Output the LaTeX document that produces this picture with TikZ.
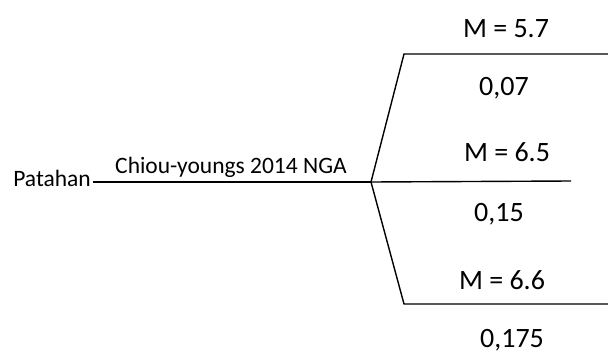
\documentclass[tikz,border=0pt]{standalone}
\usepackage{fontspec}
\setmainfont{Carlito}
\begin{document}
\begin{tikzpicture}[x=1pt,y=-1pt,
  lbl/.style={inner sep=0pt,anchor=base,font=\fontsize{23.5}{28}\selectfont},
  val/.style={inner sep=0pt,anchor=base,font=\fontsize{28}{33}\selectfont},
  ln/.style={draw=black,line width=1.4pt}]
\useasboundingbox (0,0) rectangle (608,356);
\node[lbl,anchor=base east] (pat) at (91,186) {Patahan};
\node[lbl] (model) at (231,173) {Chiou-youngs 2014 NGA};
\coordinate (J) at (371,182);
\coordinate (U1) at (404,54);
\coordinate (U2) at (608,54);
\coordinate (M2) at (571,181);
\coordinate (L1) at (404,304);
\coordinate (L2) at (608,304);
\node[val] (m57) at (506,37) {M = 5.7};
\node[val] (p07) at (504,95) {0,07};
\node[val] (m65) at (507,161) {M = 6.5};
\node[val] (p15) at (499,221) {0,15};
\node[val] (m66) at (502,289) {M = 6.6};
\node[val] (p175) at (512,347) {0,175};
\draw[ln] (pat.east |- J) ++(2,0) -- (J);
\draw[ln] (J) -- (U1) -- (U2);
\draw[ln] (J) -- (M2);
\draw[ln] (J) -- (L1) -- (L2);
\end{tikzpicture}
\end{document}
